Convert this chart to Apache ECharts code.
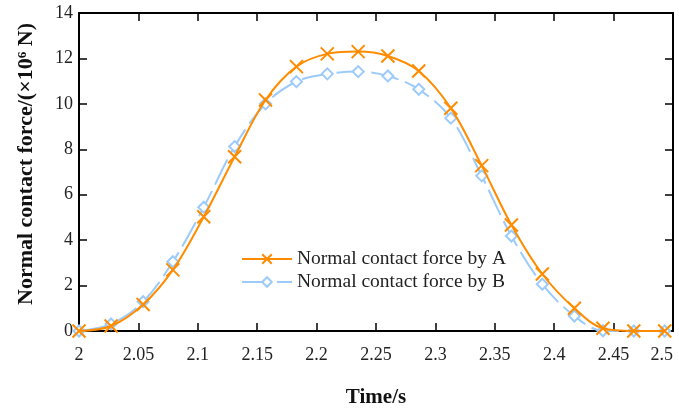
<!DOCTYPE html>
<html>
<head>
<meta charset="utf-8">
<script src="https://cdn.jsdelivr.net/npm/echarts@6/dist/echarts.min.js"></script>
<style>html,body{margin:0;padding:0;background:#fff;}#c{width:679px;height:414px;}</style>
</head>
<body>
<div id="c"></div>
<script>
var timeValues = [2.000, 2.027, 2.054, 2.079, 2.105, 2.131, 2.157, 2.183, 2.209, 2.235, 2.260, 2.286, 2.313, 2.339, 2.364, 2.390, 2.417, 2.441, 2.467, 2.493];
var forceA = [0, 0.22, 1.17, 2.69, 5.03, 7.67, 10.17, 11.64, 12.2, 12.3, 12.11, 11.45, 9.81, 7.28, 4.67, 2.51, 1.0, 0.12, 0, 0];
var forceB = [0, 0.31, 1.29, 3.05, 5.45, 8.12, 10.0, 10.98, 11.32, 11.42, 11.23, 10.64, 9.37, 6.83, 4.18, 2.06, 0.66, 0.01, 0, 0];
var seriesNames = ['Normal contact force by A', 'Normal contact force by B'];
var xTitle = 'Time/s';
var yTitle = 'Normal contact force/(\u00d710\u2076 N)';

function zip(xs, ys) { return xs.map(function (x, i) { return [x, ys[i]]; }); }

var FONT = '"Liberation Serif", "Times New Roman", serif';
var chart = echarts.init(document.getElementById('c'));
var axisLine = { show: true, onZero: false, lineStyle: { color: '#000', width: 2 } };
var tickIn = { show: true, inside: true, length: 8, lineStyle: { color: '#000', width: 1.5 } };

chart.setOption({
  animation: false,
  backgroundColor: '#fff',
  grid: { left: 79, top: 13, right: 6, bottom: 83 },
  legend: {
    left: 236, top: 244, orient: 'vertical',
    itemWidth: 50, itemHeight: 12, itemGap: 3,
    textStyle: { fontFamily: FONT, fontSize: 19.5, color: '#222' },
    data: seriesNames
  },
  xAxis: [{
    type: 'value', min: 2, max: 2.5, interval: 0.05, position: 'bottom',
    axisLine: axisLine, axisTick: tickIn, splitLine: { show: false },
    axisLabel: { fontFamily: FONT, fontSize: 18, color: '#222', margin: 15, alignMaxLabel: 'right' },
    name: xTitle, nameLocation: 'middle', nameGap: 56,
    nameTextStyle: { fontFamily: FONT, fontSize: 21, fontWeight: 'bold', color: '#111' }
  }, {
    type: 'value', min: 2, max: 2.5, interval: 0.05, position: 'top',
    axisLine: axisLine, axisTick: tickIn, splitLine: { show: false }, axisLabel: { show: false }
  }],
  yAxis: [{
    type: 'value', min: 0, max: 14, interval: 2, position: 'left',
    axisLine: axisLine, axisTick: tickIn, splitLine: { show: false },
    axisLabel: { fontFamily: FONT, fontSize: 18, color: '#222', margin: 6 },
    name: yTitle, nameLocation: 'middle', nameGap: 42,
    nameTextStyle: { fontFamily: FONT, fontSize: 22, fontWeight: 'bold', color: '#111', padding: [0, 0, 0, 16] }
  }, {
    type: 'value', min: 0, max: 14, interval: 2, position: 'right',
    axisLine: axisLine, axisTick: tickIn, splitLine: { show: false }, axisLabel: { show: false }
  }],
  series: [{
    name: seriesNames[0], type: 'line', smooth: 0.35,
    data: zip(timeValues, forceA),
    symbol: 'path://M0,0L10,10M10,0L0,10', symbolSize: 13,
    itemStyle: { color: '#ff8c00', borderColor: '#ff8c00', borderWidth: 2 },
    lineStyle: { color: '#ff8c00', width: 2 }, z: 3
  }, {
    name: seriesNames[1], type: 'line', smooth: 0.35,
    data: zip(timeValues, forceB),
    symbol: 'emptyDiamond', symbolSize: 11,
    itemStyle: { color: '#9ccbfa', borderColor: '#9ccbfa', borderWidth: 2 },
    lineStyle: { color: '#9ccbfa', width: 2, type: [28, 7] }, z: 2
  }]
});
</script>
</body>
</html>
